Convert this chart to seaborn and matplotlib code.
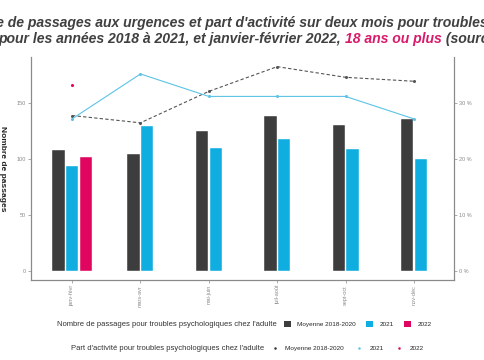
import numpy as np
import pandas as pd
import seaborn as sns
import matplotlib
import matplotlib.pyplot as plt
from matplotlib.patches import Patch
from matplotlib.lines import Line2D

matplotlib.use('Agg')

# data
periodes = ['janv-févr', 'mars-avr', 'mai-juin', 'juil-août', 'sept-oct', 'nov-déc']
passages_moy = [108, 104, 125, 138, 130, 135]
passages_2021 = [94, 129, 110, 118, 109, 100]
passages_2022 = [102]            # only janv-févr
part_moy = [27.7, 26.4, 32.0, 36.4, 34.5, 33.8]
part_2021 = [27.1, 35.1, 31.1, 31.1, 31.1, 27.1]
part_2022 = [33.2]               # only janv-févr

series_labels = ['Moyenne 2018-2020', '2021', '2022']
col_dark = '#3d3d3d'
col_blue = '#10ade0'
col_line_blue = '#5cc3e6'
col_pink = '#e0065f'
col_text = '#404040'

sns.set_theme(style='white')
plt.rcParams['font.family'] = ['Liberation Sans', 'DejaVu Sans']


def main():
    fig = plt.figure(figsize=(4.85, 3.6), dpi=100)
    fig.patch.set_facecolor('white')
    ax = fig.add_axes([0.064, 0.222, 0.872, 0.62])

    pos = np.arange(len(periodes))
    width, step = 0.18, 0.2

    # bars: 3 per group when 2022 is available, otherwise 2, centred on the tick
    for i in pos:
        vals = [passages_moy[i], passages_2021[i]]
        cols = [col_dark, col_blue]
        if i < len(passages_2022):
            vals.append(passages_2022[i])
            cols.append(col_pink)
        n = len(vals)
        offs = (np.arange(n) - (n - 1) / 2) * step
        ax.bar(i + offs, vals, width=width, color=cols, edgecolor='white', linewidth=0.3, zorder=2)

    ax.set_xlim(-0.6, 5.585)
    ax.set_ylim(-8, 190.7)
    ax.set_yticks([0, 50, 100, 150])
    ax.set_xticks(pos)
    ax.set_xticklabels(periodes, rotation=90, fontsize=4, color='#8a8a8a')
    ax.tick_params(axis='y', labelsize=4, labelcolor='#8a8a8a', length=2, width=0.5, color='#8a8a8a', pad=1.5)
    ax.tick_params(axis='x', length=2, width=0.5, color='#8a8a8a', pad=1.5, bottom=True)
    ax.set_ylabel('Nombre de passages', fontsize=6, fontweight='bold', color='#222222',
                  rotation=-90, va='center')
    ax.yaxis.set_label_coords(-0.068, 0.5)
    ax.set_xlabel('')

    # right axis: share of activity (%)
    ax2 = ax.twinx()
    ax2.set_ylim(-8 / 5, 190.7 / 5)
    sns.lineplot(x=pos, y=part_moy, ax=ax2, color='#555555', linestyle=(0, (3, 2)),
                 linewidth=0.8, marker='o', markersize=2.2, markeredgewidth=0, zorder=3)
    sns.lineplot(x=pos, y=part_2021, ax=ax2, color=col_line_blue, linewidth=0.8,
                 marker='o', markersize=2.2, markeredgewidth=0, zorder=3)
    sns.scatterplot(x=pos[:len(part_2022)], y=part_2022, ax=ax2, color=col_pink, s=5,
                    linewidth=0, zorder=3)
    ax2.set_yticks([0, 10, 20, 30])
    ax2.set_yticklabels(['0 %', '10 %', '20 %', '30 %'])
    ax2.tick_params(axis='y', labelsize=4, labelcolor='#8a8a8a', length=2, width=0.5, color='#8a8a8a', pad=1.5)
    ax2.set_ylabel('')
    ax2.set_xlim(-0.6, 5.585)

    for a in (ax, ax2):
        a.spines['top'].set_visible(False)
        for side in ('left', 'right', 'bottom'):
            a.spines[side].set_color('#8a8a8a')
            a.spines[side].set_linewidth(0.8)

    # title (wider than the picture, cropped like the source)
    tkw = dict(fontsize=10.1, fontweight='bold', fontstyle='italic', color=col_text)
    renderer = fig.canvas.get_renderer()
    probe = fig.text(0, 0, 'Nombr', **tkw)
    w = probe.get_window_extent(renderer=renderer).width
    probe.remove()
    fig.text((-4 - w) / 485, 1 - 27 / 360,
             "Nombre de passages aux urgences et part d'activité sur deux mois pour troubles psychologiques",
             ha='left', va='baseline', **tkw)
    t2 = fig.text(-1.5 / 485, 1 - 43 / 360, 'pour les années 2018 à 2021, et janvier-février 2022, ',
                  ha='left', va='baseline', **tkw)
    t3 = ax.annotate('18 ans ou plus', xy=(1, 0), xycoords=t2, va='bottom', ha='left',
                     annotation_clip=False, **{**tkw, 'color': '#d81b6a'})
    ax.annotate(' (source : OSCOUR®)', xy=(1, 0), xycoords=t3, va='bottom', ha='left',
                annotation_clip=False, **tkw)

    # legends
    fig.text(277 / 485, 1 - 324 / 360, "Nombre de passages pour troubles psychologiques chez l'adulte",
             ha='right', va='center', fontsize=5.5, color='#333333')
    bar_handles = [Patch(facecolor=c, edgecolor='none') for c in (col_dark, col_blue, col_pink)]
    fig.legend(bar_handles, series_labels, loc='center left', bbox_to_anchor=(284 / 485, 1 - 324 / 360),
               ncol=3, frameon=False, fontsize=4.6, handlelength=1.1, handleheight=1.1,
               handletextpad=1.0, columnspacing=1.6, borderaxespad=0, borderpad=0)

    fig.text(264 / 485, 1 - 348 / 360, "Part d'activité pour troubles psychologiques chez l'adulte",
             ha='right', va='center', fontsize=5.5, color='#333333')
    pt_handles = [Line2D([], [], linestyle='none', marker='o', markersize=1.8, markeredgewidth=0, color=c)
                  for c in ('#333333', col_line_blue, col_pink)]
    fig.legend(pt_handles, series_labels, loc='center left', bbox_to_anchor=(270 / 485, 1 - 348 / 360),
               ncol=3, frameon=False, fontsize=4.6, handlelength=1.6,
               handletextpad=0.8, columnspacing=1.6, borderaxespad=0, borderpad=0)

    fig.savefig('out.png', dpi=100, facecolor='white')
    plt.close(fig)


if __name__ == '__main__':
    main()
